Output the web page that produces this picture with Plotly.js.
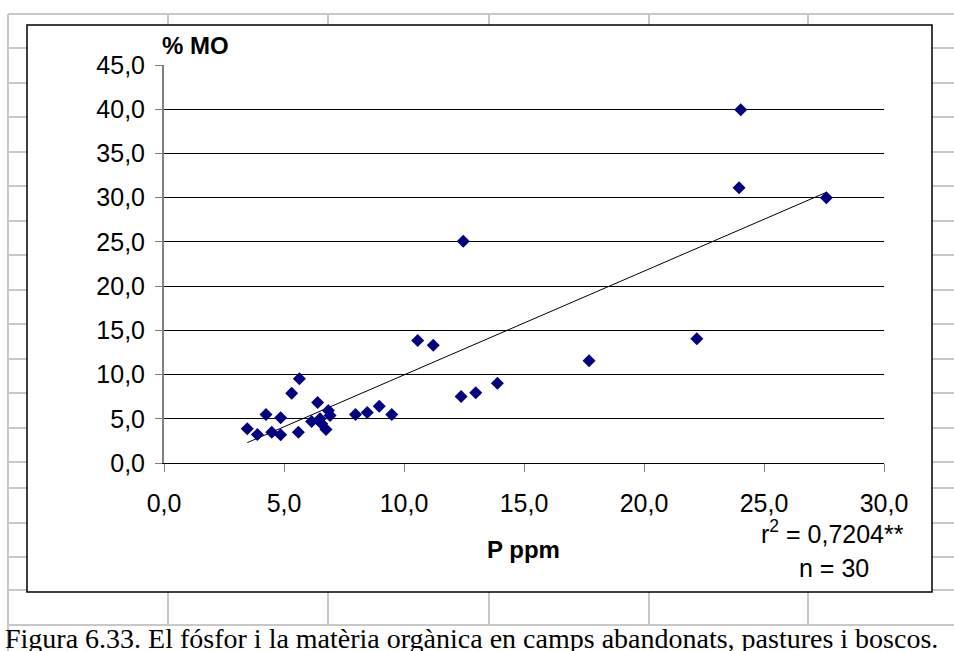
<!DOCTYPE html>
<html>
<head>
<meta charset="utf-8">
<script src="https://cdn.plot.ly/plotly-3.0.1.min.js"></script>
<style>
  html, body { margin: 0; padding: 0; background: #ffffff; }
  #chart { width: 954px; height: 651px; }
</style>
</head>
<body>
<div id="chart"></div>
<script>
// ---- Data ----
const pPpm = [3.47, 3.89, 4.25, 4.49, 4.86, 4.86, 5.32, 5.60, 5.64, 6.15,
              6.40, 6.50, 6.57, 6.75, 6.85, 6.92, 7.98, 8.47, 8.97, 9.49,
              10.57, 11.22, 12.38, 12.47, 12.99, 13.89, 17.71, 22.20, 23.96, 24.03,
              27.60];
const moPct = [3.87, 3.22, 5.49, 3.48, 3.19, 5.11, 7.90, 3.48, 9.52, 4.70,
               6.85, 5.00, 4.43, 3.80, 5.94, 5.37, 5.47, 5.70, 6.43, 5.49,
               13.86, 13.30, 7.52, 25.06, 7.94, 9.03, 11.56, 14.05, 31.13, 39.95,
               30.00];
const trendSlope = 1.173;
const trendIntercept = -1.77;
const xTickVals = [0, 5, 10, 15, 20, 25, 30];
const xTickText = ["0,0", "5,0", "10,0", "15,0", "20,0", "25,0", "30,0"];
const yTickVals = [0, 5, 10, 15, 20, 25, 30, 35, 40, 45];
const yTickText = ["0,0", "5,0", "10,0", "15,0", "20,0", "25,0", "30,0", "35,0", "40,0", "45,0"];
const xTitle = "P ppm";
const yTitle = "% MO";
const statsR2 = "r<sup>2</sup> = 0,7204**";
const statsN = "n = 30";
const caption = "Figura 6.33. El fósfor i la matèria orgànica en camps abandonats, pastures i boscos.";

// ---- Geometry (pixels) ----
const W = 954, H = 651;
const M = { l: 164, r: 70, t: 65, b: 188 };
const PW = W - M.l - M.r, PH = H - M.t - M.b;
const px = x => (x - M.l) / PW;              // pixel x -> paper x
const py = y => (H - M.b - y) / PH;          // pixel y -> paper y

// spreadsheet background grid
const gridRows = [14, 48, 83, 117, 152, 186, 221, 255, 290, 324, 359, 393, 428, 462, 488, 523, 557, 590, 625];
const gridCols = [8, 168, 328, 489, 649, 808];
const shapes = [];
const gray = '#c8c8c8';
gridRows.forEach(y => shapes.push({type: 'line', xref: 'paper', yref: 'paper', layer: 'below',
  x0: px(8), x1: px(W), y0: py(y), y1: py(y), line: {color: gray, width: 2}}));
gridCols.forEach(x => shapes.push({type: 'line', xref: 'paper', yref: 'paper', layer: 'below',
  x0: px(x), x1: px(x), y0: py(14), y1: py(x === 8 ? H : 625), line: {color: gray, width: 2}}));
// chart box
shapes.push({type: 'rect', xref: 'paper', yref: 'paper', layer: 'below',
  x0: px(27), x1: px(932), y0: py(25), y1: py(592),
  fillcolor: '#ffffff', line: {color: '#000000', width: 1.5}});
// caption background
shapes.push({type: 'rect', xref: 'paper', yref: 'paper', layer: 'below',
  x0: px(9), x1: px(W), y0: py(626), y1: py(H), fillcolor: '#ffffff', line: {width: 0}});

const xMin = Math.min(...pPpm), xMax = Math.max(...pPpm);
const trendX = [xMin, xMax];
const trendY = trendX.map(x => trendSlope * x + trendIntercept);

const traces = [
  {x: trendX, y: trendY, type: 'scatter', mode: 'lines',
   line: {color: '#000000', width: 1}, hoverinfo: 'skip', showlegend: false},
  {x: pPpm, y: moPct, type: 'scatter', mode: 'markers',
   marker: {symbol: 'diamond', size: 10, color: '#000080', line: {width: 0}}, showlegend: false}
];

const FONT = 'Liberation Sans, Arial, sans-serif';
const tickFont = {family: FONT, size: 25, color: '#000000'};
const layout = {
  width: W, height: H,
  margin: {l: M.l, r: M.r, t: M.t, b: M.b, pad: 0},
  paper_bgcolor: '#ffffff', plot_bgcolor: 'rgba(0,0,0,0)',
  showlegend: false,
  xaxis: {range: [0, 30], tickvals: xTickVals, ticktext: xTickText, tickfont: tickFont,
          showgrid: false, zeroline: false, showline: true, linecolor: '#000000', linewidth: 1,
          ticks: 'outside', ticklen: 8, tickcolor: '#808080', tickwidth: 1, ticklabelstandoff: 10,
          fixedrange: true},
  yaxis: {range: [0, 45], tickvals: yTickVals, ticktext: yTickText, tickfont: tickFont,
          showgrid: true, gridcolor: '#000000', gridwidth: 1, zeroline: false,
          showline: true, linecolor: '#808080', linewidth: 2,
          ticks: 'outside', ticklen: 7, tickcolor: '#808080', tickwidth: 1, ticklabelstandoff: 5,
          fixedrange: true},
  shapes: shapes,
  annotations: [
    {text: '<b>' + yTitle + '</b>', xref: 'paper', yref: 'paper', x: px(195), y: py(45),
     xanchor: 'center', yanchor: 'middle', showarrow: false,
     font: {family: FONT, size: 24, color: '#000'}},
    {text: '<b>' + xTitle + '</b>', xref: 'paper', yref: 'paper', x: px(523), y: py(549),
     xanchor: 'center', yanchor: 'middle', showarrow: false,
     font: {family: FONT, size: 24, color: '#000'}},
    {text: statsR2, xref: 'paper', yref: 'paper', x: px(906), y: py(532),
     xanchor: 'right', yanchor: 'middle', showarrow: false,
     font: {family: FONT, size: 25, color: '#000'}},
    {text: statsN, xref: 'paper', yref: 'paper', x: px(834), y: py(568),
     xanchor: 'center', yanchor: 'middle', showarrow: false,
     font: {family: FONT, size: 25, color: '#000'}},
    {text: caption, xref: 'paper', yref: 'paper', x: px(3), y: py(638),
     xanchor: 'left', yanchor: 'middle', showarrow: false,
     font: {family: 'Liberation Serif, Times New Roman, serif', size: 28, color: '#000'}}
  ]
};

Plotly.newPlot('chart', traces, layout, {displayModeBar: false, staticPlot: true});
</script>
</body>
</html>
